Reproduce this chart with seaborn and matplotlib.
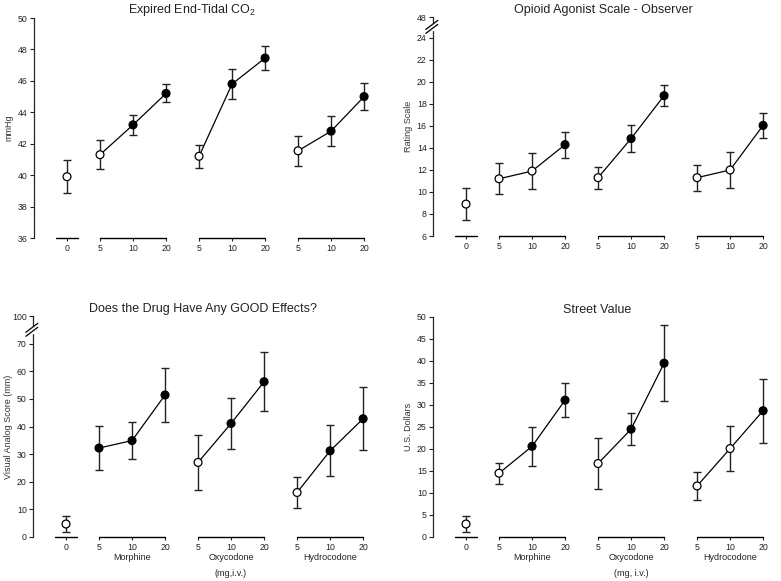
import numpy as np
import pandas as pd
import matplotlib
matplotlib.use("Agg")
import matplotlib.pyplot as plt
import seaborn as sns

# doses on the x axis (placebo, then three drugs at 5/10/20 mg)
dose_labels = ["0", "5", "10", "20", "5", "10", "20", "5", "10", "20"]
drug = ["Placebo"] + ["Morphine"] * 3 + ["Oxycodone"] * 3 + ["Hydrocodone"] * 3
drug_names = ["Morphine", "Oxycodone", "Hydrocodone"]

# expired end-tidal CO2 (mmHg)
co2_mean = [39.9, 41.3, 43.2, 45.2, 41.2, 45.8, 47.45, 41.55, 42.8, 45.0]
co2_sem = [1.05, 0.92, 0.65, 0.57, 0.74, 0.96, 0.78, 0.97, 0.94, 0.87]
co2_filled = [0, 0, 1, 1, 0, 1, 1, 0, 1, 1]

# opioid agonist scale - observer
oas_mean = [8.9, 11.2, 11.9, 14.3, 11.3, 14.85, 18.75, 11.3, 12.0, 16.05]
oas_sem = [1.45, 1.42, 1.6, 1.18, 1.0, 1.2, 0.97, 1.17, 1.6, 1.1]
oas_filled = [0, 0, 0, 1, 0, 1, 1, 0, 0, 1]

# good effects VAS (mm)
good_mean = [4.7, 32.2, 34.9, 51.4, 27.0, 41.1, 56.2, 16.1, 31.2, 42.8]
good_sem = [2.9, 8.1, 6.7, 9.9, 10.1, 9.1, 10.7, 5.5, 9.2, 11.4]
good_filled = [0, 1, 1, 1, 0, 1, 1, 0, 1, 1]

# street value (US dollars)
street_mean = [2.95, 14.5, 20.6, 31.1, 16.7, 24.5, 39.5, 11.6, 20.1, 28.7]
street_sem = [1.9, 2.4, 4.5, 3.8, 5.7, 3.6, 8.6, 3.2, 5.2, 7.3]
street_filled = [0, 0, 1, 1, 0, 1, 1, 0, 0, 1]

sns.set_style("ticks")
plt.rcParams["font.family"] = ["Liberation Sans", "DejaVu Sans"]
plt.rcParams["mathtext.fontset"] = "custom"
plt.rcParams["mathtext.rm"] = "Liberation Sans"

W, H = 781, 581
fig = plt.figure(figsize=(W / 100, H / 100), dpi=100)


def add_panel(rect_px, mean, sem, filled, title, ylabel, ylim, yticks, yticklabels,
              title_x=0.5, brk=None, xnote=None):
    left, top, right, bottom = rect_px
    ax = fig.add_axes([left / W, 1 - bottom / H, (right - left) / W, (bottom - top) / H])
    pos = np.arange(len(mean))
    df = pd.DataFrame({"pos": pos, "mean": mean, "sem": sem,
                       "drug": drug, "filled": np.array(filled) == 1})

    lines = df[df["drug"] != "Placebo"]
    sns.lineplot(data=lines, x="pos", y="mean", units="drug", estimator=None,
                 color="black", lw=0.9, ax=ax, zorder=2, legend=False)
    ax.errorbar(df["pos"], df["mean"], yerr=df["sem"], fmt="none", ecolor="#222222",
                elinewidth=1.0, capsize=3, capthick=1.0, zorder=1)
    sns.scatterplot(data=df, x="pos", y="mean", hue="filled",
                    palette={True: "black", False: "white"}, edgecolor="black",
                    linewidth=0.9, s=32, ax=ax, zorder=3, legend=False)

    ax.set_xlim(-1, 9.3)
    ax.set_ylim(*ylim)
    ax.set_yticks(yticks, yticklabels)
    ax.set_xticks(pos, dose_labels)
    ax.tick_params(axis="y", length=3, width=0.8, pad=1.5, labelsize=6.3, colors="#222222")
    ax.tick_params(axis="x", length=2, width=0.8, pad=2, labelsize=6.3, colors="#222222")
    for s in ["top", "right", "bottom"]:
        ax.spines[s].set_visible(False)
    ax.spines["left"].set_linewidth(0.9)
    ax.set_xlabel("")
    ax.set_ylabel(ylabel, fontsize=6.5, color="#333333")
    ax.yaxis.set_label_coords(-0.06, 0.5)
    ax.set_title(title, fontsize=9, x=title_x, pad=3, color="#222222")

    # baseline segments under placebo and each drug
    xt = ax.get_xaxis_transform()
    ax.plot([pos[0] - 0.33, pos[0] + 0.33], [0, 0], color="black", lw=1.0,
            transform=xt, clip_on=False)
    for name in drug_names:
        p = df.loc[df["drug"] == name, "pos"]
        ax.plot([p.min(), p.max()], [0, 0], color="black", lw=1.0,
                transform=xt, clip_on=False)
        if xnote is not None:
            ax.annotate(name, xy=(p.mean(), 0), xycoords=xt, xytext=(0, -15),
                        textcoords="offset points", ha="center", va="center",
                        fontsize=6.5, color="#222222")
    if xnote is not None:
        p = df.loc[df["drug"] == "Oxycodone", "pos"]
        ax.annotate(xnote, xy=(p.mean(), 0), xycoords=xt, xytext=(0, -26.5),
                    textcoords="offset points", ha="center", va="center",
                    fontsize=6.5, color="#222222")

    # broken axis marks
    if brk is not None:
        yf = (brk - ylim[0]) / (ylim[1] - ylim[0])
        hpx = bottom - top
        g = 2.0 / hpx
        dx = 6.0 / (right - left)
        dy = 4.5 / hpx
        ax.plot([0, 0], [yf - g, yf + g], color="white", lw=2.5,
                transform=ax.transAxes, clip_on=False, zorder=5)
        for off in (-g, g):
            ax.plot([-dx * 1.2, dx * 0.8], [yf + off - dy, yf + off + dy], color="black",
                    lw=0.9, transform=ax.transAxes, clip_on=False, zorder=6)
    return ax


add_panel((34, 18, 374, 238), co2_mean, co2_sem, co2_filled,
          "Expired End-Tidal CO$_\\mathregular{2}$", "mmHg", (36, 50),
          np.arange(36, 51, 2), [str(v) for v in range(36, 51, 2)], title_x=0.465)

oas_ticks = list(range(6, 25, 2)) + [25.9]
add_panel((433, 17, 773, 236), oas_mean, oas_sem, oas_filled,
          "Opioid Agonist Scale - Observer", "Rating Scale", (6, 25.9),
          oas_ticks, [str(v) for v in range(6, 25, 2)] + ["48"], brk=25.0)

good_ticks = list(range(0, 71, 10)) + [80]
add_panel((33, 316, 373, 537), good_mean, good_sem, good_filled,
          "Does the Drug Have Any GOOD Effects?", "Visual Analog Score (mm)", (0, 80),
          good_ticks, [str(v) for v in range(0, 71, 10)] + ["100"], brk=75,
          xnote="(mg,i.v.)")

add_panel((433, 317, 773, 537), street_mean, street_sem, street_filled,
          "Street Value", "U.S. Dollars", (0, 50),
          np.arange(0, 51, 5), [str(v) for v in range(0, 51, 5)], title_x=0.482,
          xnote="(mg, i.v.)")

fig.savefig("out.png", dpi=100)
